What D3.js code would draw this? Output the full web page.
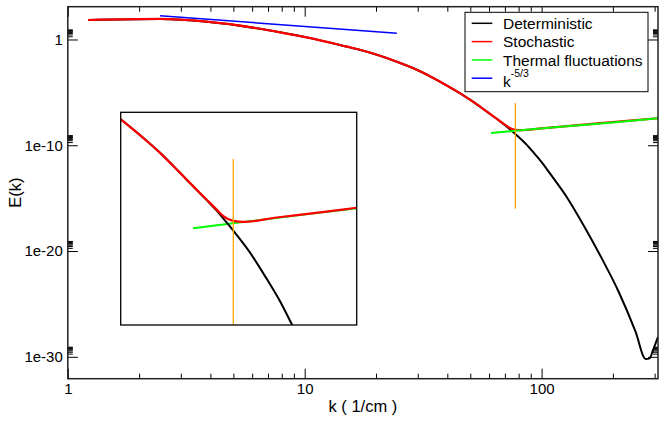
<!DOCTYPE html>
<html>
<head>
<meta charset="utf-8">
<script src="https://cdn.jsdelivr.net/npm/d3@7"></script>
<style>
  body { margin: 0; background: #fff; }
  text { font-family: "Liberation Sans", Arial, Helvetica, sans-serif; fill: #000; }
</style>
</head>
<body>
<svg id="svg_spec" width="664" height="422"></svg>
<script>
// Energy spectrum E(k), log-log, with a zoomed inset around the crossover

// Deterministic spectrum (black)
var kDet = [1.22, 2.45, 3.86, 6.28, 7.87, 10.2, 15.1, 16.6, 24.5, 29.7, 33.8, 40, 45.7, 50.4,
            55.6, 61.2, 66.2, 70.3, 74.5, 79.1, 85.5, 94.2, 101.9, 109.2, 129, 152, 179, 211,
            249, 275, 286, 295, 310];
var eDet = [69.2, 87.1, 47.9, 11.5, 4.79, 1.58, 0.209, 0.126, 7.9e-3, 1.38e-3, 3.3e-4, 4.2e-5, 7.2e-6, 1.78e-6,
            3.7e-7, 7.6e-8, 2.1e-8, 7.6e-9, 2.5e-9, 7.6e-10, 1.45e-10, 1.26e-11, 1.51e-12, 1.74e-13, 8.9e-16, 1.78e-18, 2.24e-21, 1.58e-24,
            2.5e-28, 6.3e-31, 7.1e-31, 4.0e-30, 7.9e-29];

// Stochastic spectrum (red)
var kSto = [1.22, 2.45, 3.86, 6.28, 7.87, 10.2, 15.1, 16.6, 24.5, 29.7, 33.8, 40, 45.7, 50.4,
            55.6, 61.2, 66.2, 70.3, 73.1, 77.5, 82.2, 100, 121.6, 160, 200, 250, 310];
var eSto = [69.2, 87.1, 47.9, 11.5, 4.79, 1.58, 0.209, 0.126, 7.9e-3, 1.38e-3, 3.3e-4, 4.2e-5, 7.2e-6, 1.78e-6,
            3.7e-7, 7.7e-8, 2.2e-8, 8.4e-9, 4.6e-9, 2.9e-9, 2.65e-9, 4.0e-9, 5.75e-9, 1.0e-8, 1.58e-8, 2.4e-8, 3.6e-8];

// Thermal fluctuations (green)
var kTh = [61.2, 82, 120, 200, 310];
var eTh = [1.45e-9, 2.6e-9, 5.5e-9, 1.45e-8, 3.6e-8];

// k^-5/3 reference line (blue)
var kKol = [2.45, 24.5];
var eKol = [178, 3.86];

// vertical marker (orange)
var kMark = 77.5;
var eMark = [1e-6, 1e-16];

var xTicks = [1, 10, 100],
    xTickLabels = ["1", "10", "100"];
var yTicks = [1, 1e-10, 1e-20, 1e-30],
    yTickLabels = ["1", "1e-10", "1e-20", "1e-30"];

var legendKeys = ["Deterministic", "Stochastic", "Thermal fluctuations", "k"];
var legendColors = ["#000000", "#ff0000", "#00ff00", "#0000ff"];

function zip(ks, es) { return ks.map(function(k, i) { return {k: k, e: es[i]}; }); }

var series = [
  {name: "det", data: zip(kDet, eDet), color: "#000000", width: 2},
  {name: "sto", data: zip(kSto, eSto), color: "#ff0000", width: 2.2},
  {name: "th",  data: zip(kTh, eTh),   color: "#00ff00", width: 2},
  {name: "kol", data: zip(kKol, eKol), color: "#0000ff", width: 1.5}
];
var markData = eMark.map(function(e) { return {k: kMark, e: e}; });

var svg = d3.select("#svg_spec"),
    margin = {top: 6.7, right: 6, bottom: 43.3, left: 67.8},
    width = +svg.attr("width") - margin.left - margin.right,
    height = +svg.attr("height") - margin.top - margin.bottom,
    g = svg.append("g").attr("transform", "translate(" + margin.left + "," + margin.top + ")");

var x = d3.scaleLog().domain([1, 310]).range([0, width]);
var y = d3.scaleLog().domain([Math.pow(10, -32.07), Math.pow(10, 3.1)]).range([height, 0]);

function minors(majors, maxv) {
  var out = [];
  majors.forEach(function(m) { for (var i = 2; i < 10; i++) if (m * i <= maxv) out.push(m * i); });
  return out;
}
var xMinor = minors(xTicks, 310);
var yMinor = minors(yTicks, 1000);

svg.append("defs").append("clipPath").attr("id", "clip_main")
  .append("rect").attr("width", width).attr("height", height);

// curves
var line = d3.line()
    .x(function(d) { return x(d.k); })
    .y(function(d) { return y(d.e); })
    .curve(d3.curveMonotoneX);

var plot = g.append("g").attr("clip-path", "url(#clip_main)");
series.forEach(function(s) {
  plot.append("path")
      .datum(s.data)
      .attr("fill", "none")
      .attr("stroke", s.color)
      .attr("stroke-width", s.width)
      .attr("d", line);
});
plot.append("path")
    .datum(markData)
    .attr("fill", "none")
    .attr("stroke", "#ffa500")
    .attr("stroke-width", 1.3)
    .attr("d", d3.line().x(function(d) { return x(d.k); }).y(function(d) { return y(d.e); }));

// axes (ticks point inwards on all four sides)
function styleAxis(sel) {
  sel.select(".domain").remove();
  sel.selectAll("line").attr("stroke", "#000").attr("stroke-width", 1);
  sel.selectAll("text").attr("font-size", 15).attr("font-family", null);
}

g.append("g")
    .attr("transform", "translate(0," + height + ")")
    .call(d3.axisBottom(x).tickValues(xTicks).tickFormat(function(d, i) { return xTickLabels[i]; })
      .tickSizeInner(-10).tickSizeOuter(0).tickPadding(5))
    .call(styleAxis);
g.append("g")
    .attr("transform", "translate(0," + height + ")")
    .call(d3.axisBottom(x).tickValues(xMinor).tickFormat("").tickSizeInner(-5).tickSizeOuter(0))
    .call(styleAxis);
g.append("g")
    .call(d3.axisTop(x).tickValues(xTicks).tickFormat("").tickSizeInner(-10).tickSizeOuter(0))
    .call(styleAxis);
g.append("g")
    .call(d3.axisTop(x).tickValues(xMinor).tickFormat("").tickSizeInner(-5).tickSizeOuter(0))
    .call(styleAxis);

g.append("g")
    .call(d3.axisLeft(y).tickValues(yTicks).tickFormat(function(d, i) { return yTickLabels[i]; })
      .tickSizeInner(-10).tickSizeOuter(0).tickPadding(5))
    .call(styleAxis);
g.append("g")
    .call(d3.axisLeft(y).tickValues(yMinor).tickFormat("").tickSizeInner(-5).tickSizeOuter(0))
    .call(styleAxis);
g.append("g")
    .attr("transform", "translate(" + width + ",0)")
    .call(d3.axisRight(y).tickValues(yTicks).tickFormat("").tickSizeInner(-10).tickSizeOuter(0))
    .call(styleAxis);
g.append("g")
    .attr("transform", "translate(" + width + ",0)")
    .call(d3.axisRight(y).tickValues(yMinor).tickFormat("").tickSizeInner(-5).tickSizeOuter(0))
    .call(styleAxis);

// frame
g.append("rect")
    .attr("width", width)
    .attr("height", height)
    .attr("fill", "none")
    .attr("stroke", "#222")
    .attr("stroke-width", 1.5);

// axis titles
svg.append("text")
    .attr("x", margin.left + width / 2)
    .attr("y", 412)
    .attr("text-anchor", "middle")
    .attr("font-size", 16.5)
    .text("k ( 1/cm )");

svg.append("text")
    .attr("transform", "translate(21," + (margin.top + height / 2) + ") rotate(-90)")
    .attr("text-anchor", "middle")
    .attr("font-size", 16.5)
    .text("E(k)");

// legend
var legend = svg.append("g").attr("transform", "translate(465,12.3)");
legend.append("rect")
    .attr("width", 183)
    .attr("height", 79.4)
    .attr("fill", "#fff")
    .attr("stroke", "#000")
    .attr("stroke-width", 1);

var item = legend.selectAll("g.item")
    .data(legendKeys)
    .enter().append("g")
      .attr("class", "item")
      .attr("transform", function(d, i) { return "translate(0," + (11 + i * 18.3) + ")"; });

item.append("line")
    .attr("x1", 6.7).attr("x2", 27.3)
    .attr("stroke", function(d, i) { return legendColors[i]; })
    .attr("stroke-width", 1.5);

var itemText = item.append("text")
    .attr("x", 38)
    .attr("y", function(d, i) { return i === 3 ? 8.8 : 5.8; })
    .attr("font-size", 15.5)
    .text(function(d) { return d; });

itemText.filter(function(d, i) { return i === 3; })
  .append("tspan")
    .attr("dy", -9.8)
    .attr("font-size", 10.5)
    .text("-5/3");

// inset: zoom on the deterministic / thermal crossover
var inset = {x0: 120.7, y0: 112.3, x1: 356.7, y1: 325};
var xi = d3.scaleLog().domain([40, 160]).range([inset.x0, inset.x1]);
var yi = d3.scaleLog().domain([Math.pow(10, -12.8), Math.pow(10, -4.09)]).range([inset.y1, inset.y0]);

svg.append("rect")
    .attr("x", inset.x0).attr("y", inset.y0)
    .attr("width", inset.x1 - inset.x0).attr("height", inset.y1 - inset.y0)
    .attr("fill", "#fff");

svg.select("defs").append("clipPath").attr("id", "clip_inset")
  .append("rect")
    .attr("x", inset.x0).attr("y", inset.y0)
    .attr("width", inset.x1 - inset.x0).attr("height", inset.y1 - inset.y0);

var lineInset = d3.line()
    .x(function(d) { return xi(d.k); })
    .y(function(d) { return yi(d.e); })
    .curve(d3.curveMonotoneX);

var gi = svg.append("g").attr("clip-path", "url(#clip_inset)");
[series[2], series[0], series[1]].forEach(function(s) {
  gi.append("path")
      .datum(s.data)
      .attr("fill", "none")
      .attr("stroke", s.color)
      .attr("stroke-width", s.width)
      .attr("d", lineInset);
});
gi.append("path")
    .datum(markData)
    .attr("fill", "none")
    .attr("stroke", "#ffa500")
    .attr("stroke-width", 1.3)
    .attr("d", d3.line().x(function(d) { return xi(d.k); }).y(function(d) { return yi(d.e); }));

svg.append("rect")
    .attr("x", inset.x0).attr("y", inset.y0)
    .attr("width", inset.x1 - inset.x0).attr("height", inset.y1 - inset.y0)
    .attr("fill", "none")
    .attr("stroke", "#000")
    .attr("stroke-width", 1.3);
</script>
</body>
</html>
